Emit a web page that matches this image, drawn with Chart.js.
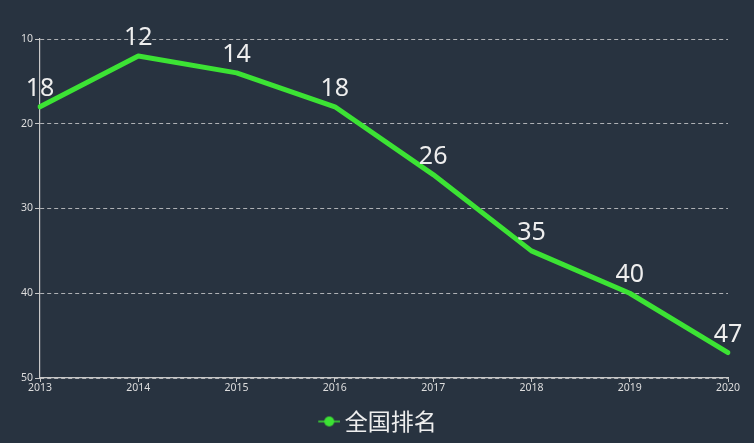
<!DOCTYPE html>
<html>
<head>
<meta charset="utf-8">
<script src="https://cdn.jsdelivr.net/npm/chart.js@4"></script>
<style>
  html, body { margin: 0; padding: 0; background: #283340; }
  #wrap { width: 754px; height: 443px; }
</style>
</head>
<body>
<div id="wrap"><canvas id="c" width="754" height="443"></canvas></div>
<script>
const years = ['2013', '2014', '2015', '2016', '2017', '2018', '2019', '2020'];
const ranks = [18, 12, 14, 18, 26, 35, 40, 47];
const seriesName = '全国排名';
const yTicks = [10, 20, 30, 40, 50];

const BG = '#283340';
const GREEN = '#3ce334';

// legend icon: line with a circle
const icon = document.createElement('canvas');
icon.width = 30; icon.height = 12;
(function () {
  const g = icon.getContext('2d');
  g.strokeStyle = GREEN; g.lineWidth = 1.5;
  g.beginPath(); g.moveTo(8, 6); g.lineTo(30, 6); g.stroke();
  g.fillStyle = GREEN;
  g.beginPath(); g.arc(19, 6, 5, 0, Math.PI * 2); g.fill();
})();

const bgPlugin = {
  id: 'bg',
  beforeDraw(chart) {
    const ctx = chart.ctx;
    ctx.save();
    ctx.fillStyle = BG;
    ctx.fillRect(0, 0, chart.width, chart.height);
    ctx.restore();
  }
};

const labelPlugin = {
  id: 'vlabels',
  afterDatasetsDraw(chart) {
    const ctx = chart.ctx;
    const meta = chart.getDatasetMeta(0);
    const data = chart.data.datasets[0].data;
    ctx.save();
    ctx.font = '25px "Noto Sans", "Open Sans", sans-serif';
    ctx.fillStyle = '#eeeeee';
    ctx.textAlign = 'center';
    ctx.textBaseline = 'alphabetic';
    meta.data.forEach((pt, i) => {
      ctx.fillText(String(data[i]), pt.x, pt.y - 11);
    });
    ctx.restore();
  }
};

new Chart(document.getElementById('c'), {
  type: 'line',
  data: {
    labels: years,
    datasets: [{
      label: seriesName,
      data: ranks,
      borderColor: GREEN,
      backgroundColor: GREEN,
      borderWidth: 5,
      borderCapStyle: 'round',
      borderJoinStyle: 'round',
      pointRadius: 0,
      pointHoverRadius: 0,
      pointStyle: icon,
      tension: 0
    }]
  },
  options: {
    responsive: false,
    animation: false,
    events: [],
    layout: { padding: { top: 39, right: 0, left: 0, bottom: 0 } },
    plugins: {
      tooltip: { enabled: false },
      legend: {
        display: true,
        position: 'bottom',
        labels: {
          usePointStyle: true,
          pointStyleWidth: 16,
          color: '#eeeeee',
          padding: 11,
          font: { size: 23, family: '"Noto Sans CJK SC", "Noto Sans", sans-serif' }
        }
      }
    },
    scales: {
      x: {
        type: 'category',
        offset: false,
        afterFit(scale) { scale.height = 21; scale.paddingRight = 26; },
        grid: {
          drawOnChartArea: false,
          drawTicks: true,
          tickLength: 4,
          color: '#c8c8c8'
        },
        border: { display: true, color: '#c8c8c8', width: 1.2 },
        ticks: {
          color: '#dddddd',
          padding: 0,
          maxRotation: 0,
          autoSkip: false,
          font: { size: 10.5, family: '"Noto Sans", sans-serif' }
        }
      },
      y: {
        type: 'linear',
        reverse: true,
        min: 10,
        max: 50,
        afterFit(scale) { scale.width = 40; },
        afterBuildTicks(scale) { scale.ticks = yTicks.map(v => ({ value: v })); },
        grid: {
          drawOnChartArea: true,
          drawTicks: true,
          tickLength: 5,
          color: 'rgba(220,220,220,0.75)',
          tickColor: '#c8c8c8',
          tickBorderDash: []
        },
        border: { display: true, color: '#c8c8c8', width: 1.2, dash: [4, 3] },
        ticks: {
          color: '#dddddd',
          padding: 2,
          font: { size: 10.5, family: '"Noto Sans", sans-serif' }
        }
      }
    }
  },
  plugins: [bgPlugin, labelPlugin]
});
</script>
</body>
</html>
